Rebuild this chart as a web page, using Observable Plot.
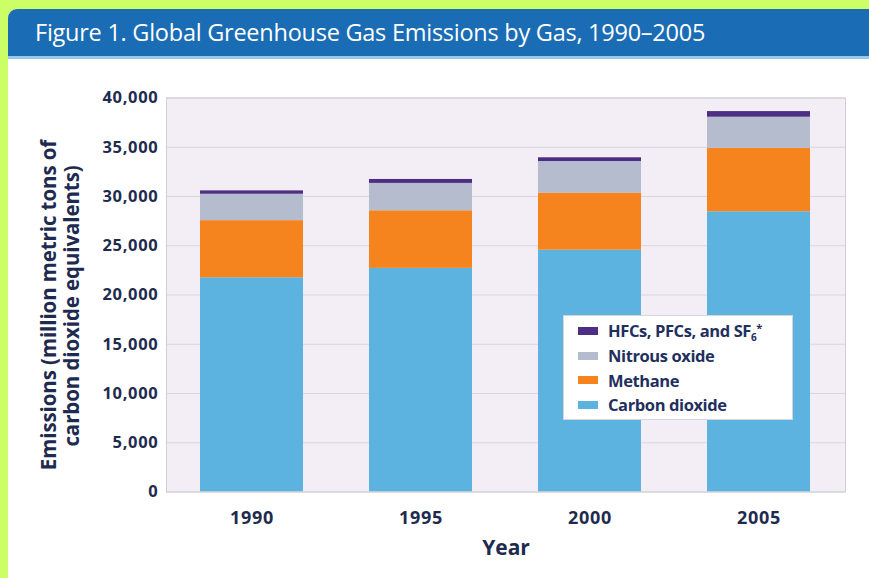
<!DOCTYPE html>
<html>
<head>
<meta charset="utf-8">
<script src="https://cdn.jsdelivr.net/npm/d3@7"></script>
<script src="https://cdn.jsdelivr.net/npm/@observablehq/plot@0.6"></script>
<style>
  html, body { margin: 0; padding: 0; }
  body { width: 869px; height: 578px; background: #ccff66; position: relative; overflow: hidden; font-family: "Open Sans", sans-serif; }
  #card { position: absolute; left: 8px; top: 9px; width: 861px; height: 569px; background: #ffffff; border-top-left-radius: 9px; overflow: hidden; }
  #titlebar { position: absolute; left: 0; top: 0; width: 861px; height: 47px; background: #1a6cb4; border-bottom: 3px solid #9cc8ea; }
  #title { position: absolute; left: 27px; top: 7px; color: #ffffff; font-size: 23.5px; font-family: "Open Sans", sans-serif; white-space: nowrap; letter-spacing: -0.25px; }
  #chart { position: absolute; left: 8px; top: 60px; }
  .ytitle { position: absolute; font-weight: bold; font-size: 20.5px; color: #1e2b4f; white-space: nowrap; transform: translate(-50%, -50%) rotate(-90deg); font-family: "Open Sans", sans-serif; letter-spacing: -0.1px; }
  #xtitle { position: absolute; left: 506px; top: 547px; transform: translate(-50%, -50%); font-weight: bold; font-size: 21px; color: #1e2b4f; }
  #legend { position: absolute; left: 563px; top: 315px; width: 230px; height: 105px; background: #ffffff; border: 1px solid #d4d6de; box-sizing: border-box; }
  .li { position: absolute; left: 14px; height: 24px; display: flex; align-items: center; font-weight: bold; font-size: 16.5px; color: #1f2f5e; white-space: nowrap; letter-spacing: -0.4px; }
  .sw { width: 20px; height: 8px; margin-right: 10px; flex: none; }
  sub { font-size: 10px; vertical-align: -4px; }
  sup { font-size: 11px; vertical-align: 5px; }
</style>
</head>
<body>
<div id="card">
  <div id="titlebar"><div id="title">Figure 1. Global Greenhouse Gas Emissions by Gas, 1990–2005</div></div>
</div>
<div id="chart"></div>
<div class="ytitle" style="left:48px; top:305px;">Emissions (million metric tons of</div>
<div class="ytitle" style="left:71px; top:306px;">carbon dioxide equivalents)</div>
<div id="xtitle">Year</div>
<div id="legend"></div>
<script>
const years = ["1990", "1995", "2000", "2005"];
const gases = ["Carbon dioxide", "Methane", "Nitrous oxide", "HFCs, PFCs, and SF6*"];
const co2 = [21750, 22700, 24550, 28450];
const methane = [5800, 5850, 5800, 6450];
const nitrous = [2680, 2780, 3200, 3150];
const hfcs = [340, 400, 380, 570];
const gasColors = ["#5cb3e0", "#f5841f", "#b4bccd", "#4e2d84"];
const yTicks = [0, 5000, 10000, 15000, 20000, 25000, 30000, 35000, 40000];

const series = [co2, methane, nitrous, hfcs];
const data = [];
years.forEach((yr, i) => {
  series.forEach((s, g) => data.push({year: yr, gas: gases[g], value: s[i]}));
});

const chart = Plot.plot({
  width: 861,
  height: 518,
  marginLeft: 158,
  marginRight: 24,
  marginTop: 37.5,
  marginBottom: 86.5,
  style: {fontFamily: "Open Sans, sans-serif", fontSize: "16.5px", fontWeight: "bold", color: "#1e2b4f", background: "transparent", letterSpacing: "0.7px"},
  x: {domain: years, paddingInner: 0.39, paddingOuter: 0.2, label: null},
  y: {domain: [0, 40000], label: null},
  color: {domain: gases, range: gasColors},
  marks: [
    Plot.frame({fill: "#f3eef5", stroke: null}),
    Plot.gridY(yTicks, {stroke: "#d8d6dc", strokeOpacity: 1}),
    Plot.barY(data, {x: "year", y: "value", fill: "gas", order: gases}),
    Plot.frame({stroke: "#d0ced4", fill: null}),
    Plot.axisY({ticks: yTicks, tickSize: 0, tickPadding: 8, tickFormat: d3.format(","), label: null}),
    Plot.axisX({tickSize: 0, tickPadding: 19, label: null, fontSize: 18})
  ]
});
document.getElementById("chart").appendChild(chart);

const legendItems = [
  {label: "HFCs, PFCs, and SF<sub>6</sub><sup>*</sup>", color: gasColors[3]},
  {label: "Nitrous oxide", color: gasColors[2]},
  {label: "Methane", color: gasColors[1]},
  {label: "Carbon dioxide", color: gasColors[0]}
];
const legend = document.getElementById("legend");
legendItems.forEach((d, i) => {
  const row = document.createElement("div");
  row.className = "li";
  row.style.top = (3 + i * 24.5) + "px";
  row.innerHTML = `<span class="sw" style="background:${d.color}"></span><span>${d.label}</span>`;
  legend.appendChild(row);
});
</script>
</body>
</html>
